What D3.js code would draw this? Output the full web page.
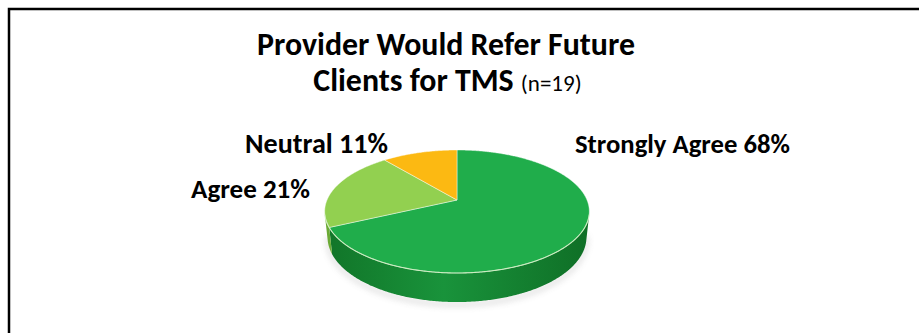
<!DOCTYPE html>
<html><head><meta charset="utf-8">
<script src="https://cdn.jsdelivr.net/npm/d3@7"></script>
<style>body{margin:0;background:#fff}svg{display:block}</style>
</head><body>
<svg id="c" width="919" height="333"></svg>
<script>
// ---- data ----
const categories = ["Strongly Agree", "Agree", "Neutral"];
const values = [68, 21, 11];           // percent of respondents (n=19)
const titleLines = ["Provider Would Refer Future", "Clients for TMS"];
const titleNote = "(n=19)";
const topColors = ["#20ad4b", "#92d050", "#fcb912"];
const sideColors = [["#117428", "#19933b", "#0f6e26"], ["#6aa934", "#7fbf44", "#6aa934"], ["#d79a00", "#e8a900", "#d79a00"]];

// ---- layout ----
const W = 919, H = 333;
const FONT = "Carlito, Lato, 'Open Sans', sans-serif";
const svg = d3.select("#c");
const defs = svg.append("defs");

// frame
svg.append("path").attr("d", `M9,${H} V9 H${W}`).attr("fill", "none")
  .attr("stroke", "#000").attr("stroke-width", 2.5);

function fitWidth(sel, target) {
  const fs = +sel.attr("font-size");
  const w = sel.node().getComputedTextLength();
  sel.attr("font-size", fs * target / w);
}

// title
const t1 = svg.append("text").attr("x", 446).attr("y", 55).attr("text-anchor", "middle")
  .attr("font-family", FONT).attr("font-weight", "bold").attr("font-size", 26).attr("fill", "#000")
  .text(titleLines[0]);
fitWidth(t1, 378);
const t2 = svg.append("text").attr("x", 447.5).attr("y", 91).attr("text-anchor", "middle")
  .attr("font-family", FONT).attr("fill", "#000");
t2.append("tspan").attr("font-weight", "bold").attr("font-size", t1.attr("font-size")).text(titleLines[1] + " ");
t2.append("tspan").attr("font-weight", "normal").attr("font-size", 23).text(titleNote);

// ---- 3D pie projection ----
const cx = 457, cy = 200;             // screen position of pie apex
const D = 4.754, f = 618, h = 0.223;  // camera distance, focal length, thickness (R = 1)
const sT = 0.4565, cT = Math.sqrt(1 - sT * sT);
function proj(t, y) {
  const x = Math.sin(t), z = Math.cos(t);
  const Y = y * cT + z * sT, Z = -y * sT + z * cT + D;
  return [cx + f * x / Z, cy - f * Y / Z];
}
const visLim = Math.acos(-1 / (D * cT));      // side visible for t in [visLim, 2π - visLim]
const arcs = d3.pie().sort(null).startAngle(0).endAngle(2 * Math.PI)(values);

function arcPts(a0, a1, y) {
  const n = Math.max(2, Math.ceil((a1 - a0) / 0.01));
  return d3.range(n + 1).map(i => proj(a0 + (a1 - a0) * i / n, y));
}
const line = d3.line();

// shadow
const flt = defs.append("filter").attr("id", "blur").attr("x", "-20%").attr("y", "-50%")
  .attr("width", "140%").attr("height", "200%");
flt.append("feGaussianBlur").attr("stdDeviation", 3);
const shadowPts = arcPts(visLim - 0.1, 2 * Math.PI - visLim + 0.1, -h - 0.02);
svg.append("path").attr("d", line(shadowPts)).attr("fill", "none")
  .attr("stroke", "#999").attr("stroke-width", 3).attr("opacity", 0.45).attr("filter", "url(#blur)");

// side gradients
const left = proj(3 * Math.PI / 2, 0)[0], right = proj(Math.PI / 2, 0)[0];
sideColors.forEach((cs, i) => {
  const g = defs.append("linearGradient").attr("id", "side" + i)
    .attr("gradientUnits", "userSpaceOnUse").attr("x1", left - 5).attr("x2", right + 5).attr("y1", 0).attr("y2", 0);
  g.append("stop").attr("offset", 0).attr("stop-color", cs[0]);
  g.append("stop").attr("offset", 0.45).attr("stop-color", cs[1]);
  g.append("stop").attr("offset", 1).attr("stop-color", cs[2]);
});

// sides
arcs.forEach((a, i) => {
  const a0 = Math.max(a.startAngle, visLim), a1 = Math.min(a.endAngle, 2 * Math.PI - visLim);
  if (a1 <= a0) return;
  const top = arcPts(a0, a1, 0), bot = arcPts(a0, a1, -h).reverse();
  svg.append("path").attr("d", line(top.concat(bot)) + "Z").attr("fill", `url(#side${i})`);
});

// top faces
arcs.forEach((a, i) => {
  svg.append("path").attr("d", line([[cx, cy]].concat(arcPts(a.startAngle, a.endAngle, 0))) + "Z")
    .attr("fill", topColors[i]).attr("stroke", "rgba(255,255,255,0.55)").attr("stroke-width", 0.8)
    .attr("stroke-linejoin", "round");
});
// rim highlight on visible edge
svg.append("path").attr("d", line(arcPts(visLim, 2 * Math.PI - visLim, 0)))
  .attr("fill", "none").attr("stroke", "#d4f0c4").attr("stroke-width", 1.1).attr("opacity", 0.85);

// labels
const labelLayout = [
  { anchor: "start", x: 575, y: 153, w: 215 },
  { anchor: "end", x: 310, y: 198, w: 119 },
  { anchor: "end", x: 388, y: 153, w: 143 }
];
arcs.forEach((a, i) => {
  const L = labelLayout[i];
  const t = svg.append("text").attr("x", L.x).attr("y", L.y).attr("text-anchor", L.anchor)
    .attr("font-family", FONT).attr("font-weight", "bold").attr("font-size", 18).attr("fill", "#000")
    .text(`${categories[i]} ${values[i]}%`);
  fitWidth(t, L.w);
});
</script>
</body></html>
